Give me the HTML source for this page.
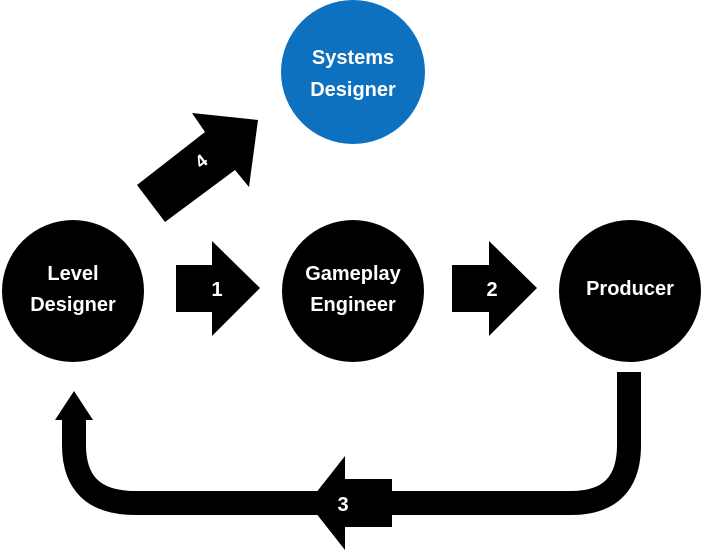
<!DOCTYPE html>
<html><head><meta charset="utf-8"><style>
html,body{margin:0;padding:0;background:#fff;}
svg{display:block}
text{font-family:"Liberation Sans",sans-serif;font-weight:bold;fill:#fff;text-anchor:middle}
</style></head><body>
<svg width="702" height="552" viewBox="0 0 702 552">
<circle cx="353" cy="72" r="72" fill="#0e71c0"/>
<text x="353" y="64" font-size="20">Systems</text>
<text x="353" y="96" font-size="20">Designer</text>

<polygon points="137,185 205,132 192,113 258,120 249,187 235,170 165,222" fill="#000"/>
<text x="0" y="0" font-size="18" transform="translate(205,166) rotate(-38)">4</text>

<circle cx="73" cy="291" r="71" fill="#000"/>
<circle cx="353" cy="291" r="71" fill="#000"/>
<circle cx="630" cy="291" r="71" fill="#000"/>
<text x="73" y="280" font-size="20">Level</text>
<text x="73" y="311" font-size="20">Designer</text>
<text x="353" y="280" font-size="20">Gameplay</text>
<text x="353" y="311" font-size="20">Engineer</text>
<text x="630" y="295" font-size="20">Producer</text>

<polygon points="176,265 212,265 212,241 260,288 212,336 212,312 176,312" fill="#000"/>
<text x="217" y="296" font-size="20">1</text>
<polygon points="452,265 489,265 489,241 537,288 489,336 489,312 452,312" fill="#000"/>
<text x="492" y="296" font-size="20">2</text>

<path d="M629,372 L629,445 Q629,503 571,503 L135,503 Q74,503 74,445 L74,418" fill="none" stroke="#000" stroke-width="24"/>
<polygon points="55,420 93,420 74,391" fill="#000"/>
<polygon points="392,479 392,527 345,527 345,550 308,503 345,456 345,479" fill="#000"/>
<text x="343" y="511" font-size="20">3</text>
</svg>
</body></html>
